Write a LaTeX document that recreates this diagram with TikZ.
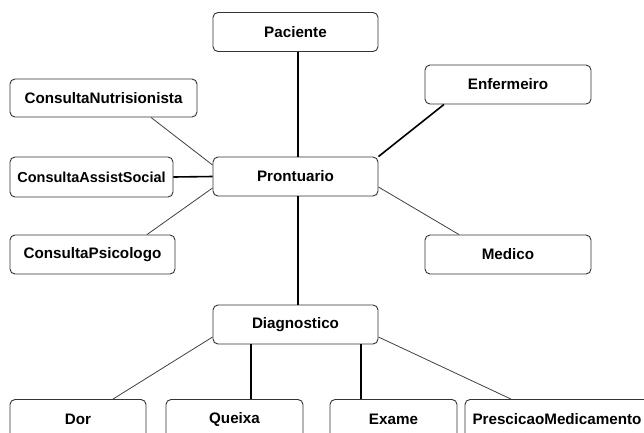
\documentclass[tikz,border=0pt]{standalone}
\usepackage{fontspec}
\setmainfont{Liberation Sans}
\usepackage{tikz}
\usetikzlibrary{calc}
\usepackage{xcolor}

\tikzset{
	box/.style={draw=black!80, line width=0.9pt, rounded corners=5pt, fill=white,
		minimum width=165pt, minimum height=39pt, inner sep=0pt,
		font=\fontsize{15.2}{18}\selectfont\bfseries},
	strong/.style={line width=1.6pt, black},
	weak/.style={line width=0.8pt, black!75}
}

\begin{document}
\begin{tikzpicture}[x=1pt,y=-1pt]
		
		% page frame
		\useasboundingbox (0,0) rectangle (644,432);
		
		% central record and its neighbours
		\node[box] (paciente) at (295.5,32) {Paciente};
		\node[box] (prontuario) at (295.5,176.5) {Prontuario};
		\node[box, minimum width=166pt] (enfermeiro) at (508,84.5) {Enfermeiro};
		\node[box, minimum width=166pt] (medico) at (508,254.5) {Medico};
		\node[box, minimum width=187pt, minimum height=38pt] (nutri) at (103.5,98) {ConsultaNutrisionista};
		\node[box, minimum width=163pt, minimum height=40pt, font=\fontsize{14.5}{17}\selectfont\bfseries] (assist) at (91.5,177) {ConsultaAssistSocial};
		\node[box] (psico) at (92.5,254.5) {ConsultaPsicologo};
		
		% diagnosis and its parts
		\node[box] (diag) at (295.5,324.5) {Diagnostico};
		\node[box, minimum width=136pt] (dor) at (78,419) {Dor};
		\node[box, minimum width=137pt] (queixa) at (234.5,419) {Queixa};
		\node[box, minimum width=127pt] (exame) at (393.5,419) {Exame};
		\node[box, minimum width=184pt] (presc) at (557,419) {PrescicaoMedicamento};
		
		% links to the record
		\draw[strong] ([xshift=2.5pt]paciente.south) -- ([xshift=2.5pt]prontuario.north);
		\draw[strong] (assist.east) -- (prontuario.west);
		\draw[strong] ([xshift=-64pt]enfermeiro.south) -- (prontuario.north east);
		\draw[weak] ([xshift=47.5pt]nutri.south) -- ([yshift=11.5pt]prontuario.west);
		\draw[weak] ([xshift=54.5pt]psico.north) -- ([yshift=-11.5pt]prontuario.west);
		\draw[weak] ([yshift=-10.5pt]prontuario.east) -- ([xshift=-49pt]medico.north);
		\draw[strong] ([xshift=2.5pt]prontuario.south) -- ([xshift=2.5pt]diag.north);
		
		% links to the diagnosis
		\draw[weak] ([yshift=-12.5pt]diag.west) -- ([xshift=35pt]dor.north);
		\draw[strong] ([xshift=-44.5pt]diag.south) -- ([xshift=16.5pt]queixa.north);
		\draw[strong] ([xshift=65.5pt]diag.south) -- ([xshift=-32.5pt]exame.north);
		\draw[weak] ([yshift=-12.5pt]diag.east) -- ([xshift=-46pt]presc.north);
		
	\end{tikzpicture}
\end{document}
